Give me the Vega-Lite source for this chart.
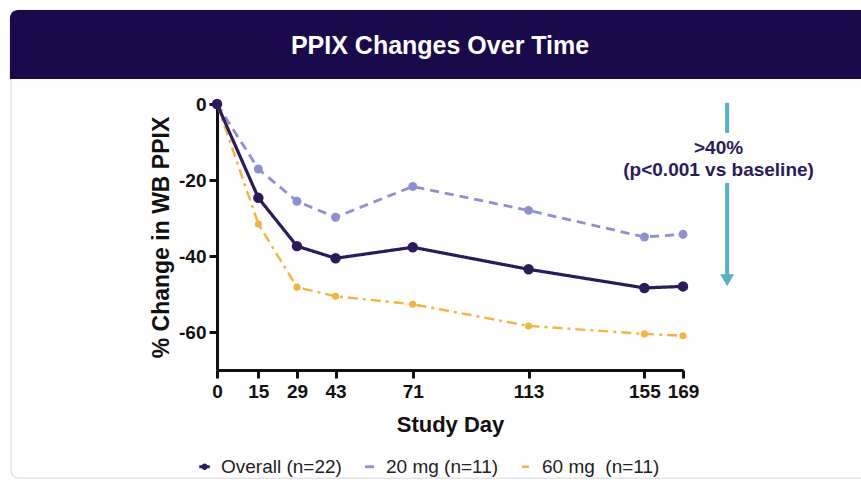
{
  "$schema": "https://vega.github.io/schema/vega-lite/v6.json",
  "width": 466,
  "height": 266,
  "autosize": "none",
  "padding": {"left": 217, "top": 104, "right": 178, "bottom": 112},
  "background": "white",
  "config": {
    "font": "Liberation Sans",
    "view": {"stroke": null},
    "axis": {"grid": false, "domainColor": "#111", "domainWidth": 3, "tickColor": "#111", "tickWidth": 3, "tickSize": 8, "labelFont": "Liberation Sans", "labelFontWeight": "bold", "labelFontSize": 19, "labelColor": "#111", "titleFont": "Liberation Sans", "titleFontWeight": "bold", "titleFontSize": 22, "titleColor": "#111", "labelOverlap": false, "labelFlush": false}
  },
  "datasets": {
    "ppix": [
      {"day": 0, "pct": 0, "series": "20 mg (n=11)"},
      {"day": 15, "pct": -17.1, "series": "20 mg (n=11)"},
      {"day": 29, "pct": -25.6, "series": "20 mg (n=11)"},
      {"day": 43, "pct": -29.8, "series": "20 mg (n=11)"},
      {"day": 71, "pct": -21.7, "series": "20 mg (n=11)"},
      {"day": 113, "pct": -28.0, "series": "20 mg (n=11)"},
      {"day": 155, "pct": -35.0, "series": "20 mg (n=11)"},
      {"day": 169, "pct": -34.3, "series": "20 mg (n=11)"},
      {"day": 0, "pct": 0, "series": "60 mg\u00a0 (n=11)"},
      {"day": 15, "pct": -31.6, "series": "60 mg\u00a0 (n=11)"},
      {"day": 29, "pct": -48.2, "series": "60 mg\u00a0 (n=11)"},
      {"day": 43, "pct": -50.6, "series": "60 mg\u00a0 (n=11)"},
      {"day": 71, "pct": -52.7, "series": "60 mg\u00a0 (n=11)"},
      {"day": 113, "pct": -58.4, "series": "60 mg\u00a0 (n=11)"},
      {"day": 155, "pct": -60.5, "series": "60 mg\u00a0 (n=11)"},
      {"day": 169, "pct": -61.0, "series": "60 mg\u00a0 (n=11)"},
      {"day": 0, "pct": 0, "series": "Overall (n=22)"},
      {"day": 15, "pct": -24.7, "series": "Overall (n=22)"},
      {"day": 29, "pct": -37.4, "series": "Overall (n=22)"},
      {"day": 43, "pct": -40.6, "series": "Overall (n=22)"},
      {"day": 71, "pct": -37.7, "series": "Overall (n=22)"},
      {"day": 113, "pct": -43.5, "series": "Overall (n=22)"},
      {"day": 155, "pct": -48.4, "series": "Overall (n=22)"},
      {"day": 169, "pct": -48.0, "series": "Overall (n=22)"}
    ]
  },
  "layer": [
    {
      "data": {"values": [{}]},
      "mark": {"type": "rect", "fill": null, "stroke": "#e4e4e4", "strokeWidth": 1.5, "cornerRadius": 8},
      "encoding": {
        "x": {"datum": -74.7, "type": "quantitative"},
        "x2": {"datum": 245},
        "y": {"datum": 24.7, "type": "quantitative"},
        "y2": {"datum": -98.5}
      }
    },
    {
      "data": {"values": [{}]},
      "mark": {"type": "rect", "fill": "#1a0a4b", "cornerRadiusTopLeft": 8},
      "encoding": {
        "x": {"datum": -75.1, "type": "quantitative"},
        "x2": {"datum": 245},
        "y": {"datum": 24.74, "type": "quantitative"},
        "y2": {"datum": 6.58}
      }
    },
    {
      "data": {"values": [{"label": "PPIX Changes Over Time"}]},
      "mark": {"type": "text", "color": "white", "fontWeight": "bold", "fontSize": 25, "font": "Liberation Sans", "baseline": "middle", "align": "center"},
      "encoding": {
        "x": {"datum": 80.9, "type": "quantitative"},
        "y": {"datum": 15.26, "type": "quantitative"},
        "text": {"field": "label"}
      }
    },
    {
      "data": {"name": "ppix"},
      "mark": {"type": "line"},
      "encoding": {
        "x": {"field": "day", "type": "quantitative", "scale": {"domain": [0, 169], "nice": false},
          "axis": {"values": [0, 15, 29, 43, 71, 113, 155, 169], "title": "Study Day", "labelPadding": 4, "titlePadding": 13}},
        "y": {"field": "pct", "type": "quantitative", "scale": {"domain": [-70, 0], "nice": false},
          "axis": {"values": [0, -20, -40, -60], "title": "% Change in WB PPIX", "titleFontSize": 23, "labelExpr": "'' + datum.value", "labelPadding": 3, "titlePadding": 5}},
        "color": {"field": "series", "type": "nominal",
          "scale": {"domain": ["Overall (n=22)", "20 mg (n=11)", "60 mg\u00a0 (n=11)"], "range": ["#2b1a5e", "#8f90d2", "#f5b53c"]},
          "legend": {"title": null, "orient": "none", "legendX": -22, "legendY": 353, "direction": "horizontal", "symbolType": "stroke", "symbolStrokeWidth": 3, "symbolSize": 1000, "labelFontSize": 19, "labelColor": "#222", "labelFont": "Liberation Sans", "columnPadding": 17, "labelOffset": 7,
            "encode": {"symbols": {"update": {
              "shape": {"signal": "datum.value === 'Overall (n=22)' ? 'M-1,0H1M-0.3,0A0.3,0.3,0,1,1,0.3,0A0.3,0.3,0,1,1,-0.3,0Z' : 'stroke'"},
              "fill": {"signal": "datum.value === 'Overall (n=22)' ? '#2b1a5e' : 'transparent'"}
            }}}}},
        "strokeDash": {"field": "series", "type": "nominal",
          "scale": {"domain": ["Overall (n=22)", "20 mg (n=11)", "60 mg\u00a0 (n=11)"], "range": [[1, 0], [9, 6], [10, 5, 3, 5]]},
          "legend": {"title": null}},
        "strokeWidth": {"field": "series", "type": "nominal",
          "scale": {"domain": ["Overall (n=22)", "20 mg (n=11)", "60 mg\u00a0 (n=11)"], "range": [3.2, 2.4, 2.4]},
          "legend": null}
      }
    },
    {
      "data": {"name": "ppix"},
      "mark": {"type": "point", "filled": true, "opacity": 1},
      "encoding": {
        "x": {"field": "day", "type": "quantitative"},
        "y": {"field": "pct", "type": "quantitative"},
        "color": {"field": "series", "type": "nominal", "legend": null},
        "size": {"field": "series", "type": "nominal",
          "scale": {"domain": ["Overall (n=22)", "20 mg (n=11)", "60 mg\u00a0 (n=11)"], "range": [110, 50, 50]},
          "legend": null}
      }
    },
    {
      "data": {"values": [{}]},
      "mark": {"type": "rule", "color": "#52b3c3", "strokeWidth": 4},
      "encoding": {
        "x": {"datum": 185, "type": "quantitative"},
        "y": {"datum": 0.3, "type": "quantitative"},
        "y2": {"datum": -7.6}
      }
    },
    {
      "data": {"values": [{}]},
      "mark": {"type": "rule", "color": "#52b3c3", "strokeWidth": 4},
      "encoding": {
        "x": {"datum": 185, "type": "quantitative"},
        "y": {"datum": -20.8, "type": "quantitative"},
        "y2": {"datum": -45}
      }
    },
    {
      "data": {"values": [{}]},
      "mark": {"type": "point", "shape": "triangle-down", "filled": true, "color": "#52b3c3", "opacity": 1, "size": 190},
      "encoding": {
        "x": {"datum": 185, "type": "quantitative"},
        "y": {"datum": -46.4, "type": "quantitative"}
      }
    },
    {
      "data": {"values": [{}]},
      "mark": {"type": "text", "color": "#2b1a5e", "fontWeight": "bold", "fontSize": 19, "font": "Liberation Sans", "align": "center", "baseline": "middle", "lineHeight": 22},
      "encoding": {
        "x": {"datum": 181.9, "type": "quantitative"},
        "y": {"datum": -11.6, "type": "quantitative"},
        "text": {"value": [">40%", "(p<0.001 vs baseline)"]}
      }
    }
  ]
}
